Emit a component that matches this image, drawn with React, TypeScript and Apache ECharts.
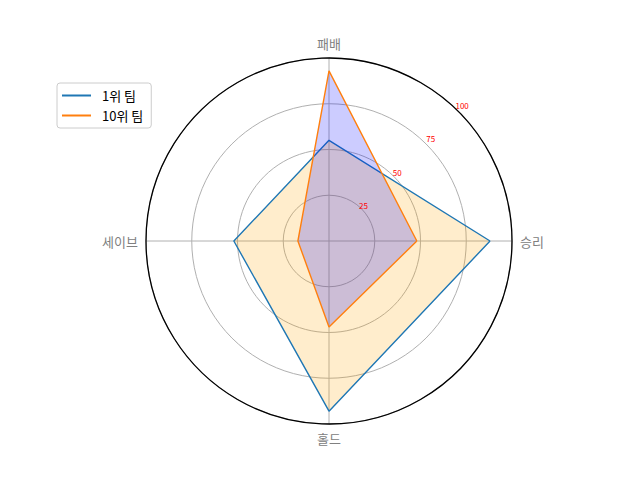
import React, { useEffect, useRef } from "react";
import * as echarts from "echarts";

const categories = ["승리", "패배", "세이브", "홀드"];
const seriesNames = ["1위 팀", "10위 팀"];
const team1 = [88, 55, 52, 93];
const team10 = [48, 93, 17, 47];
const radiusTicks = [0, 25, 50, 75, 100];

const lineColors = ["#1f77b4", "#ff7f0e"];
const fillColors = ["rgba(255,165,0,0.2)", "rgba(0,0,255,0.2)"];

function toPolar(vals: number[]) {
  const step = 360 / categories.length;
  const pts = vals.map((v, i) => [v, i * step]);
  pts.push([vals[0], 360]);
  return pts;
}

export default function App() {
  const ref = useRef<HTMLDivElement>(null);
  useEffect(() => {
    if (!ref.current) return;
    const chart = echarts.init(ref.current, undefined, { renderer: "svg" });
    const font = "'Noto Sans CJK KR', 'DejaVu Sans', sans-serif";
    const center = [329, 241];
    const radius = 183;
    const rMax = radiusTicks[radiusTicks.length - 1];
    const rInt = radiusTicks[1] - radiusTicks[0];
    chart.setOption({
      animation: false,
      backgroundColor: "#ffffff",
      legend: {
        data: seriesNames,
        orient: "vertical",
        left: 57,
        top: 83,
        padding: [6, 8, 6, 5],
        itemGap: 7,
        itemWidth: 29,
        itemHeight: 2,
        icon: "rect",
        borderColor: "#cccccc",
        borderWidth: 1,
        borderRadius: 3,
        textStyle: {
          fontFamily: font,
          fontSize: 13,
          color: "#000",
          padding: [0, 0, 0, 6],
        },
      },
      polar: [
        { center, radius },
        { center: [333, 238], radius: 190 },
      ],
      angleAxis: [
        {
          polarIndex: 0,
          type: "value",
          min: 0,
          max: 360,
          interval: 360 / categories.length,
          startAngle: 0,
          clockwise: false,
          axisLine: { show: true, lineStyle: { color: "#000", width: 1.3 } },
          axisTick: { show: false },
          axisLabel: {
            margin: 8,
            fontFamily: font,
            fontSize: 13,
            color: "#808080",
            formatter: (v: number) => {
              const idx = Math.round(v / (360 / categories.length));
              return idx < categories.length ? categories[idx] : "";
            },
          },
          splitLine: { show: true, lineStyle: { color: "#b0b0b0", width: 1 } },
        },
        {
          polarIndex: 1,
          type: "value",
          min: 0,
          max: 360,
          startAngle: 45,
          clockwise: false,
          axisLine: { show: false },
          axisTick: { show: false },
          axisLabel: { show: false },
          splitLine: { show: false },
        },
      ],
      radiusAxis: [
        {
          polarIndex: 0,
          type: "value",
          min: 0,
          max: rMax,
          interval: rInt,
          axisLine: { show: false },
          axisTick: { show: false },
          axisLabel: { show: false },
          splitLine: { show: true, lineStyle: { color: "#b0b0b0", width: 1 } },
        },
        {
          polarIndex: 1,
          type: "value",
          min: 0,
          max: rMax,
          interval: rInt,
          z: 20,
          axisLine: { show: false },
          axisTick: { show: false },
          splitLine: { show: false },
          axisLabel: {
            color: "#ff0000",
            fontSize: 8,
            fontFamily: font,
            margin: -2,
            formatter: (v: number) => (v === 0 ? "" : String(v)),
          },
        },
      ],
      series: [team1, team10].map((vals, i) => ({
        name: seriesNames[i],
        type: "line",
        coordinateSystem: "polar",
        polarIndex: 0,
        data: toPolar(vals),
        symbol: "none",
        color: lineColors[i],
        lineStyle: { color: lineColors[i], width: 1.4 },
        areaStyle: { color: fillColors[i], opacity: 1 },
        z: 3 + i,
      })),
    });
    return () => chart.dispose();
  }, []);
  return <div ref={ref} style={{ width: 640, height: 480, margin: -8 }} />;
}
